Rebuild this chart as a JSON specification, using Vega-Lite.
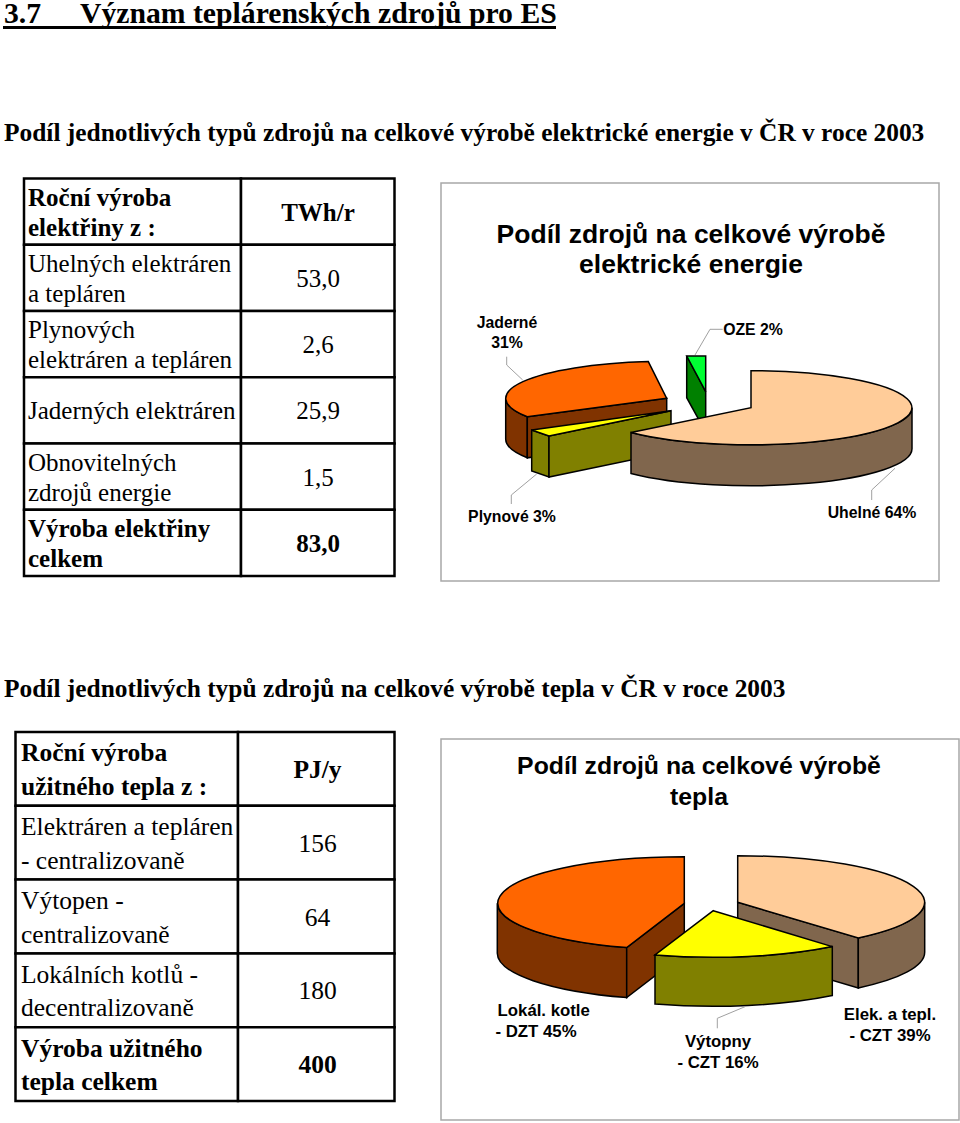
{"$schema":"https://vega.github.io/schema/vega-lite/v6.json","width":960,"height":1123,"autosize":{"type":"none"},"padding":0,"background":"white",
"config":{"axis":{"disable":true},"legend":{"disable":true},"view":{"stroke":null}},
"datasets":{
"nadpisy":[{"slot":0,"text":"3.7"},{"slot":1,"text":"Význam teplárenských zdrojů pro ES"}],
"podnadpisy":[{"slot":0,"text":"Podíl jednotlivých typů zdrojů na celkové výrobě elektrické energie v ČR v roce 2003"},{"slot":1,"text":"Podíl jednotlivých typů zdrojů na celkové výrobě tepla v ČR v roce 2003"}],
"t1":[{"row":0,"label":"Roční výroba\nelektřiny z :","value":"TWh/r","weight":"bold"},{"row":1,"label":"Uhelných elektráren\na tepláren","value":"53,0","weight":"normal"},{"row":2,"label":"Plynových\nelektráren a tepláren","value":"2,6","weight":"normal"},{"row":3,"label":"Jaderných elektráren","value":"25,9","weight":"single"},{"row":4,"label":"Obnovitelných\nzdrojů energie","value":"1,5","weight":"normal"},{"row":5,"label":"Výroba elektřiny\ncelkem","value":"83,0","weight":"bold"}],
"t2":[{"row":0,"label":"Roční výroba\nužitného tepla z :","value":"PJ/y","weight":"bold"},{"row":1,"label":"Elektráren a tepláren\n- centralizovaně","value":"156","weight":"normal"},{"row":2,"label":"Výtopen -\ncentralizovaně","value":"64","weight":"normal"},{"row":3,"label":"Lokálních kotlů -\ndecentralizovaně","value":"180","weight":"normal"},{"row":4,"label":"Výroba užitného\ntepla celkem","value":"400","weight":"bold"}],
"ramce":[{"chart":"elektřina","piece":"r1"},{"chart":"teplo","piece":"r2"}],
"dily":[
{"chart":"elektřina","piece":"Jaderné bok"},{"chart":"elektřina","piece":"Jaderné řez"},{"chart":"elektřina","piece":"Jaderné"},
{"chart":"elektřina","piece":"OZE řez"},{"chart":"elektřina","piece":"OZE"},
{"chart":"elektřina","piece":"Plynové bok"},{"chart":"elektřina","piece":"Plynové řez"},{"chart":"elektřina","piece":"Plynové"},
{"chart":"elektřina","piece":"Uhelné bok"},{"chart":"elektřina","piece":"Uhelné"},
{"chart":"teplo","piece":"Lokál bok"},{"chart":"teplo","piece":"Lokál řez"},{"chart":"teplo","piece":"Lokál"},
{"chart":"teplo","piece":"Elek řez"},{"chart":"teplo","piece":"Elek bok"},{"chart":"teplo","piece":"Elek"},
{"chart":"teplo","piece":"Výtopny bok"},{"chart":"teplo","piece":"Výtopny"}],
"vodici":[{"chart":"elektřina","piece":"v1"},{"chart":"elektřina","piece":"v2"},{"chart":"elektřina","piece":"v3"},{"chart":"elektřina","piece":"v4"},{"chart":"teplo","piece":"v5"}],
"popisky1":[{"slot":0,"text":"Jaderné\n31%"},{"slot":1,"text":"OZE 2%"},{"slot":2,"text":"Plynové 3%"},{"slot":3,"text":"Uhelné 64%"}],
"popisky2":[{"slot":0,"text":"Lokál. kotle"},{"slot":1,"text":"- DZT 45%"},{"slot":2,"text":"Výtopny\n- CZT 16%"},{"slot":3,"text":"Elek. a tepl.\n- CZT 39%"}],
"titulky":[{"slot":0,"text":"Podíl zdrojů na celkové výrobě\nelektrické energie"}],
"titulky2":[{"slot":0,"text":"Podíl zdrojů na celkové výrobě\ntepla"}]
},
"resolve":{"scale":{"x":"independent","y":"independent","shape":"independent","color":"independent"}},
"layer":[
{"data":{"name":"nadpisy"},"mark":{"type":"text","font":"Liberation Serif","fontWeight":"bold","fontSize":29.7,"align":"left","baseline":"middle"},"encoding":{"x":{"field":"slot","type":"quantitative","scale":{"domain":[0,1],"range":[4,80]}},"y":{"field":"slot","type":"quantitative","scale":{"domain":[0,1],"range":[14,14]}},"text":{"field":"text"}}},
{"data":{"values":[{"from":0,"to":1,"at":0}]},"mark":{"type":"rule","color":"black","strokeWidth":3},"encoding":{"x":{"field":"from","type":"quantitative","scale":{"domain":[0,1],"range":[3,556]}},"x2":{"field":"to"},"y":{"field":"at","type":"quantitative","scale":{"domain":[0,1],"range":[27.5,27.5]}}}},
{"data":{"name":"podnadpisy"},"mark":{"type":"text","font":"Liberation Serif","fontWeight":"bold","fontSize":25.4,"align":"left","baseline":"middle"},"encoding":{"x":{"field":"slot","type":"quantitative","scale":{"domain":[0,1],"range":[4,4]}},"y":{"field":"slot","type":"quantitative","scale":{"domain":[0,1],"range":[133,689]}},"text":{"field":"text"}}},

{"data":{"name":"t1"},"mark":{"type":"rect","fill":"white","stroke":"black","strokeWidth":2.5},"encoding":{"x":{"datum":0,"type":"quantitative","scale":{"domain":[0,1],"range":[24,241]}},"x2":{"datum":1},"y":{"field":"row","type":"ordinal","scale":{"type":"band","range":[178.5,576],"paddingInner":0,"paddingOuter":0}}}},
{"data":{"name":"t1"},"mark":{"type":"rect","fill":"white","stroke":"black","strokeWidth":2.5},"encoding":{"x":{"datum":0,"type":"quantitative","scale":{"domain":[0,1],"range":[241,394.5]}},"x2":{"datum":1},"y":{"field":"row","type":"ordinal","scale":{"type":"band","range":[178.5,576],"paddingInner":0,"paddingOuter":0}}}},
{"data":{"name":"t1"},"transform":[{"filter":"datum.weight==='normal'"}],"mark":{"type":"text","font":"Liberation Serif","fontSize":25,"lineHeight":30,"dy":-14,"align":"left","baseline":"middle","lineBreak":"\n"},"encoding":{"x":{"datum":0,"type":"quantitative","scale":{"domain":[0,1],"range":[28,28]}},"y":{"field":"row","type":"ordinal","scale":{"type":"band","domain":[0,1,2,3,4,5],"range":[178.5,576],"paddingInner":0,"paddingOuter":0}},"text":{"field":"label"}}},
{"data":{"name":"t1"},"transform":[{"filter":"datum.weight==='single'"}],"mark":{"type":"text","font":"Liberation Serif","fontSize":25,"dy":1,"align":"left","baseline":"middle"},"encoding":{"x":{"datum":0,"type":"quantitative","scale":{"domain":[0,1],"range":[28,28]}},"y":{"field":"row","type":"ordinal","scale":{"type":"band","domain":[0,1,2,3,4,5],"range":[178.5,576],"paddingInner":0,"paddingOuter":0}},"text":{"field":"label"}}},
{"data":{"name":"t1"},"transform":[{"filter":"datum.weight==='bold'"}],"mark":{"type":"text","font":"Liberation Serif","fontWeight":"bold","fontSize":25,"lineHeight":30,"dy":-14,"align":"left","baseline":"middle","lineBreak":"\n"},"encoding":{"x":{"datum":0,"type":"quantitative","scale":{"domain":[0,1],"range":[28,28]}},"y":{"field":"row","type":"ordinal","scale":{"type":"band","domain":[0,1,2,3,4,5],"range":[178.5,576],"paddingInner":0,"paddingOuter":0}},"text":{"field":"label"}}},
{"data":{"name":"t1"},"transform":[{"filter":"datum.weight!=='bold'"}],"mark":{"type":"text","font":"Liberation Serif","fontSize":25,"dy":1,"align":"center","baseline":"middle"},"encoding":{"x":{"datum":0,"type":"quantitative","scale":{"domain":[0,1],"range":[318,318]}},"y":{"field":"row","type":"ordinal","scale":{"type":"band","domain":[0,1,2,3,4,5],"range":[178.5,576],"paddingInner":0,"paddingOuter":0}},"text":{"field":"value"}}},
{"data":{"name":"t1"},"transform":[{"filter":"datum.weight==='bold'"}],"mark":{"type":"text","font":"Liberation Serif","fontWeight":"bold","fontSize":25,"dy":1,"align":"center","baseline":"middle"},"encoding":{"x":{"datum":0,"type":"quantitative","scale":{"domain":[0,1],"range":[318,318]}},"y":{"field":"row","type":"ordinal","scale":{"type":"band","domain":[0,1,2,3,4,5],"range":[178.5,576],"paddingInner":0,"paddingOuter":0}},"text":{"field":"value"}}},

{"data":{"name":"t2"},"mark":{"type":"rect","fill":"white","stroke":"black","strokeWidth":2.5},"encoding":{"x":{"datum":0,"type":"quantitative","scale":{"domain":[0,1],"range":[15.5,238]}},"x2":{"datum":1},"y":{"field":"row","type":"ordinal","scale":{"type":"band","range":[732,1101],"paddingInner":0,"paddingOuter":0}}}},
{"data":{"name":"t2"},"mark":{"type":"rect","fill":"white","stroke":"black","strokeWidth":2.5},"encoding":{"x":{"datum":0,"type":"quantitative","scale":{"domain":[0,1],"range":[238,394.5]}},"x2":{"datum":1},"y":{"field":"row","type":"ordinal","scale":{"type":"band","range":[732,1101],"paddingInner":0,"paddingOuter":0}}}},
{"data":{"name":"t2"},"transform":[{"filter":"datum.weight==='normal'"}],"mark":{"type":"text","font":"Liberation Serif","fontSize":25.5,"lineHeight":33.5,"dy":-15.5,"align":"left","baseline":"middle","lineBreak":"\n"},"encoding":{"x":{"datum":0,"type":"quantitative","scale":{"domain":[0,1],"range":[21,21]}},"y":{"field":"row","type":"ordinal","scale":{"type":"band","domain":[0,1,2,3,4],"range":[732,1101],"paddingInner":0,"paddingOuter":0}},"text":{"field":"label"}}},
{"data":{"name":"t2"},"transform":[{"filter":"datum.weight==='bold'"}],"mark":{"type":"text","font":"Liberation Serif","fontWeight":"bold","fontSize":25.5,"lineHeight":33.5,"dy":-15.5,"align":"left","baseline":"middle","lineBreak":"\n"},"encoding":{"x":{"datum":0,"type":"quantitative","scale":{"domain":[0,1],"range":[21,21]}},"y":{"field":"row","type":"ordinal","scale":{"type":"band","domain":[0,1,2,3,4],"range":[732,1101],"paddingInner":0,"paddingOuter":0}},"text":{"field":"label"}}},
{"data":{"name":"t2"},"transform":[{"filter":"datum.weight==='normal'"}],"mark":{"type":"text","font":"Liberation Serif","fontSize":25.5,"dy":1,"align":"center","baseline":"middle"},"encoding":{"x":{"datum":0,"type":"quantitative","scale":{"domain":[0,1],"range":[317.5,317.5]}},"y":{"field":"row","type":"ordinal","scale":{"type":"band","domain":[0,1,2,3,4],"range":[732,1101],"paddingInner":0,"paddingOuter":0}},"text":{"field":"value"}}},
{"data":{"name":"t2"},"transform":[{"filter":"datum.weight==='bold'"}],"mark":{"type":"text","font":"Liberation Serif","fontWeight":"bold","fontSize":25.5,"dy":1,"align":"center","baseline":"middle"},"encoding":{"x":{"datum":0,"type":"quantitative","scale":{"domain":[0,1],"range":[317.5,317.5]}},"y":{"field":"row","type":"ordinal","scale":{"type":"band","domain":[0,1,2,3,4],"range":[732,1101],"paddingInner":0,"paddingOuter":0}},"text":{"field":"value"}}},

{"data":{"name":"ramce"},"mark":{"type":"point","filled":true,"fill":"white","stroke":"#A8A8A8","strokeWidth":1.5,"size":4,"opacity":1},"encoding":{"x":{"field":"chart","type":"nominal","scale":{"type":"point","domain":["elektřina","teplo"],"range":[700,700],"padding":0}},"y":{"field":"chart","type":"nominal","scale":{"type":"point","domain":["elektřina","teplo"],"range":[420,940],"padding":0}},"shape":{"field":"piece","type":"nominal","scale":{"domain":["r1","r2"],"range":["M-259,-237 L239,-237 L239,161 L-259,161 Z","M-259,-201 L259,-201 L259,180 L-259,180 Z"]}}}},

{"data":{"name":"dily"},"mark":{"type":"point","filled":true,"stroke":"black","strokeWidth":1.5,"size":4,"opacity":1},"encoding":{"x":{"field":"chart","type":"nominal","scale":{"type":"point","domain":["elektřina","teplo"],"range":[700,700],"padding":0}},"y":{"field":"chart","type":"nominal","scale":{"type":"point","domain":["elektřina","teplo"],"range":[420,940],"padding":0}},
"color":{"field":"piece","type":"nominal","scale":{"domain":["Jaderné bok","Jaderné řez","Jaderné","OZE řez","OZE","Plynové bok","Plynové řez","Plynové","Uhelné bok","Uhelné","Lokál bok","Lokál řez","Lokál","Elek řez","Elek bok","Elek","Výtopny bok","Výtopny"],"range":["#803300","#803300","#FF6600","#008000","#00FF33","#808000","#808000","#FFFF00","#80664D","#FFCC99","#803300","#803300","#FF6600","#80664D","#80664D","#FFCC99","#808000","#FFFF00"]}},
"shape":{"field":"piece","type":"nominal","scale":{"domain":["Jaderné bok","Jaderné řez","Jaderné","OZE řez","OZE","Plynové bok","Plynové řez","Plynové","Uhelné bok","Uhelné","Lokál bok","Lokál řez","Lokál","Elek řez","Elek bok","Elek","Výtopny bok","Výtopny"],"range":[
"M-194.3,-21.7 A161,37 0 0 0 -172.7,-3.2 L-172.7,37.8 A161,37 0 0 1 -194.3,19.3 Z",
"M-33.3,-21.7 L-172.7,-3.2 L-172.7,37.8 L-33.3,19.3 Z",
"M-33.3,-21.7 L-172.7,-3.2 A161,37 0 0 1 -51.7,-58.45 Z",
"M-13.3,-64 L5.7,-28.3 L5.7,12 L-13.3,-22.3 Z",
"M-13.3,-64 L5.7,-64 L5.7,-28.3 Z",
"M-168.3,10 L-151,16 L-151,57 L-168.3,51 Z",
"M-151,16 L-29,-9.3 L-29,31.7 L-151,57 Z",
"M-29,-9.3 L-168.3,10 L-151,16 Z",
"M-69,12.4 A161,37 0 0 0 212,-12.3 L212,28.7 A161,37 0 0 1 -69,53.4 Z",
"M51,-12.3 L51,-49.3 A161,37 0 1 1 -69,12.4 Z",
"M-202.7,-36.7 A187,46.6 0 0 0 -73.3,7.6 L-73.3,57.6 A187,46.6 0 0 1 -202.7,13.3 Z",
"M-15.7,-36.7 L-73.3,7.6 L-73.3,57.6 L-15.7,13.3 Z",
"M-15.7,-36.7 L-73.3,7.6 A187,46.6 0 0 1 -15.7,-83.3 Z",
"M37.7,-37.7 L158.3,-2.1 L158.3,47.9 L37.7,12.3 Z",
"M158.3,-2.1 A187,46.6 0 0 0 224.7,-37.7 L224.7,12.3 A187,46.6 0 0 1 158.3,47.9 Z",
"M37.7,-37.7 L37.7,-84.3 A187,46.6 0 0 1 158.3,-2.1 Z",
"M-45,15 A187,46.6 0 0 0 132.3,6.6 L132.3,55.6 A187,46.6 0 0 1 -45,64 Z",
"M13.3,-29.3 L132.3,6.6 A187,46.6 0 0 1 -45,15 Z"]}}}},

{"data":{"name":"vodici"},"mark":{"type":"point","filled":false,"stroke":"#A0A0A0","strokeWidth":1,"size":4,"opacity":1},"encoding":{"x":{"field":"chart","type":"nominal","scale":{"type":"point","domain":["elektřina","teplo"],"range":[700,700],"padding":0}},"y":{"field":"chart","type":"nominal","scale":{"type":"point","domain":["elektřina","teplo"],"range":[420,940],"padding":0}},"shape":{"field":"piece","type":"nominal","scale":{"domain":["v1","v2","v3","v4","v5"],"range":["M-193.3,-63.3 L-193.3,-55 L-177.3,-40","M22.7,-90.7 L10,-90.7 L-5,-65","M-188.7,84 L-188.7,75 L-163.3,54","M171.7,80 L171.7,70 L195,48.3","M17.3,88.3 L17.3,78.3 L45,66.7"]}}}},

{"data":{"name":"titulky"},"mark":{"type":"text","font":"Liberation Sans","fontWeight":"bold","fontSize":26.5,"lineHeight":30,"align":"center","baseline":"middle","lineBreak":"\n"},"encoding":{"x":{"field":"slot","type":"quantitative","scale":{"domain":[0,1],"range":[691,691]}},"y":{"field":"slot","type":"quantitative","scale":{"domain":[0,1],"range":[235,235]}},"text":{"field":"text"}}},
{"data":{"name":"titulky2"},"mark":{"type":"text","font":"Liberation Sans","fontWeight":"bold","fontSize":24.8,"lineHeight":31,"align":"center","baseline":"middle","lineBreak":"\n"},"encoding":{"x":{"field":"slot","type":"quantitative","scale":{"domain":[0,1],"range":[699,699]}},"y":{"field":"slot","type":"quantitative","scale":{"domain":[0,1],"range":[767,767]}},"text":{"field":"text"}}},
{"data":{"name":"popisky1"},"mark":{"type":"text","font":"Liberation Sans","fontWeight":"bold","fontSize":15.8,"lineHeight":20,"align":"center","baseline":"middle","lineBreak":"\n"},"encoding":{"x":{"field":"slot","type":"quantitative","scale":{"domain":[0,1,2,3],"range":[507,753,512,872]}},"y":{"field":"slot","type":"quantitative","scale":{"domain":[0,1,2,3],"range":[323,330,517,513]}},"text":{"field":"text"}}},
{"data":{"name":"popisky2"},"mark":{"type":"text","font":"Liberation Sans","fontWeight":"bold","fontSize":16.8,"lineHeight":20.7,"align":"center","baseline":"middle","lineBreak":"\n"},"encoding":{"x":{"field":"slot","type":"quantitative","scale":{"domain":[0,1,2,3],"range":[543.7,536,718,890]}},"y":{"field":"slot","type":"quantitative","scale":{"domain":[0,1,2,3],"range":[1010.7,1031.7,1042,1015]}},"text":{"field":"text"}}}
]}
